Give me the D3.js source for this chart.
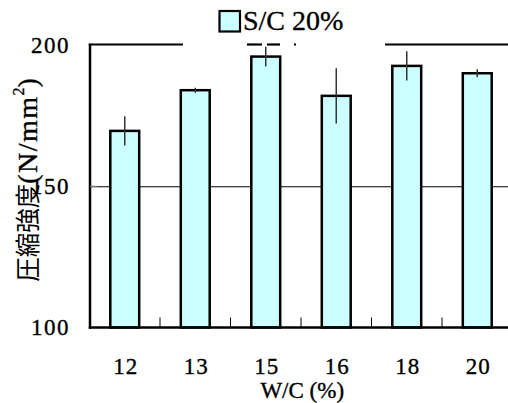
<!DOCTYPE html>
<html>
<head>
<meta charset="utf-8">
<script src="https://cdn.jsdelivr.net/npm/d3@7"></script>
<style>
  html, body { margin: 0; padding: 0; background: #fff; }
  svg { display: block; }
  text.serif { font-family: "Liberation Serif", "Times New Roman", serif; fill: #000; stroke: #000; stroke-width: 0.35; }
</style>
</head>
<body>
<div id="chart"></div>
<script>
// Compressive strength by water/cement ratio (S/C 20%)
const categories = ["12", "13", "15", "16", "18", "20"];
const strength = [169.6, 184.0, 195.9, 182.0, 192.6, 190.0];
const errors = [5.2, 0.9, 3.5, 9.8, 5.2, 1.4];
const yTicks = [100, 150, 200];
const seriesName = "S/C 20%";

const W = 508, H = 403;
const plotL = 90, plotR = 512.5, plotT = 45, plotB = 327.5;
const serif = "Liberation Serif, Times New Roman, serif";

const svg = d3.select("#chart").append("svg")
  .attr("width", W).attr("height", H);

const x = d3.scaleBand()
  .domain(categories)
  .range([plotL - 0.5, plotR])
  .paddingInner(0.59)
  .paddingOuter(0.295);

const y = d3.scaleLinear().domain([100, 200]).range([plotB, plotT]);

// horizontal grid line at the middle tick
svg.append("g")
  .selectAll("line")
  .data(yTicks.filter(v => v !== 100 && v !== 200))
  .join("line")
  .attr("x1", plotL).attr("x2", W)
  .attr("y1", d => y(d) + 0.5).attr("y2", d => y(d) + 0.5)
  .attr("stroke", "#000").attr("stroke-width", 1);

// bars
svg.append("g")
  .selectAll("rect")
  .data(categories)
  .join("rect")
  .attr("x", d => x(d))
  .attr("width", x.bandwidth())
  .attr("y", (d, i) => y(strength[i]))
  .attr("height", (d, i) => plotB - y(strength[i]))
  .attr("fill", "#ccffff")
  .attr("stroke", "#000")
  .attr("stroke-width", 2.5);

// error bars (no caps)
svg.append("g")
  .selectAll("line")
  .data(categories)
  .join("line")
  .attr("x1", d => x(d) + x.bandwidth() / 2)
  .attr("x2", d => x(d) + x.bandwidth() / 2)
  .attr("y1", (d, i) => y(strength[i] + errors[i]))
  .attr("y2", (d, i) => y(strength[i] - errors[i]))
  .attr("stroke", "#333")
  .attr("stroke-width", 1.5);

// x axis with inward ticks at category boundaries
const xAxis = svg.append("g").attr("transform", `translate(0,${plotB})`);
xAxis.append("line")
  .attr("x1", plotL - 1.2).attr("x2", W)
  .attr("y1", 0).attr("y2", 0)
  .attr("stroke", "#000").attr("stroke-width", 2.5);
xAxis.selectAll("line.tick")
  .data(categories.slice(1))
  .join("line")
  .attr("class", "tick")
  .attr("x1", d => x(d) - x.step() * x.paddingInner() / 2)
  .attr("x2", d => x(d) - x.step() * x.paddingInner() / 2)
  .attr("y1", 0).attr("y2", -10)
  .attr("stroke", "#000").attr("stroke-width", 1);
xAxis.selectAll("text")
  .data(categories)
  .join("text")
  .attr("class", "serif")
  .attr("font-family", serif)
  .attr("x", d => x(d) + x.bandwidth() / 2 + 1)
  .attr("y", 46)
  .attr("text-anchor", "middle")
  .attr("font-size", 23)
  .attr("letter-spacing", 1)
  .text(d => d);

svg.append("text")
  .attr("class", "serif")
  .attr("font-family", serif)
  .attr("x", (plotL + plotR) / 2 + 1)
  .attr("y", 398)
  .attr("text-anchor", "middle")
  .attr("font-size", 23)
  .text("W/C (%)");

// y axis
const yAxis = svg.append("g");
yAxis.append("line")
  .attr("x1", plotL).attr("x2", plotL)
  .attr("y1", plotT - 1.2).attr("y2", plotB + 1.2)
  .attr("stroke", "#000").attr("stroke-width", 2.5);
yAxis.selectAll("line.tick")
  .data(yTicks.filter(v => v !== 100 && v !== 200))
  .join("line")
  .attr("class", "tick")
  .attr("x1", plotL).attr("x2", plotL + 7)
  .attr("y1", d => y(d)).attr("y2", d => y(d))
  .attr("stroke", "#888").attr("stroke-width", 1);
yAxis.selectAll("text")
  .data(yTicks)
  .join("text")
  .attr("class", "serif")
  .attr("font-family", serif)
  .attr("x", 70)
  .attr("y", d => y(d))
  .attr("dy", "0.34em")
  .attr("text-anchor", "end")
  .attr("font-size", 23)
  .attr("letter-spacing", 1.5)
  .text(d => d);

// y axis title
const yTitle = svg.append("text")
  .attr("class", "serif")
  .attr("font-family", serif)
  .attr("transform", "translate(37,180) rotate(-90)")
  .attr("text-anchor", "middle")
  .attr("font-size", 28);
yTitle.append("tspan")
  .style("font-family", "'Noto Sans CJK JP', sans-serif")
  .style("stroke-width", 0)
  .attr("font-size", 24.5)
  .text("圧縮強度");
yTitle.append("tspan").attr("letter-spacing", 1.5).text("(N/mm");
yTitle.append("tspan").attr("font-size", 16).attr("dy", -13).text("2");
yTitle.append("tspan").attr("dy", 13).text(")");

// legend and top frame, broken where the legend sits
const lgBoxX = 219.5, lgBoxY = 11, lgBox = 20.5;
const gapL = 183, gapR = 385;
const frame = svg.append("g")
  .attr("stroke", "#000").attr("stroke-width", 2.2);
[[plotL - 1.2, gapL], [247, 262], [267, 280], [294, 296], [gapR, W]].forEach(([a, b]) => {
  frame.append("line")
    .attr("x1", a).attr("x2", b)
    .attr("y1", plotT - 0.5).attr("y2", plotT - 0.5);
});

const legend = svg.append("g");
legend.append("rect")
  .attr("x", lgBoxX).attr("y", lgBoxY)
  .attr("width", lgBox).attr("height", lgBox)
  .attr("fill", "#ccffff")
  .attr("stroke", "#000").attr("stroke-width", 2.2);
legend.append("text")
  .attr("class", "serif")
  .attr("font-family", serif)
  .attr("x", lgBoxX + lgBox + 3)
  .attr("y", lgBoxY + lgBox - 1.5)
  .attr("font-size", 28)
  .text(seriesName);
</script>
</body>
</html>
